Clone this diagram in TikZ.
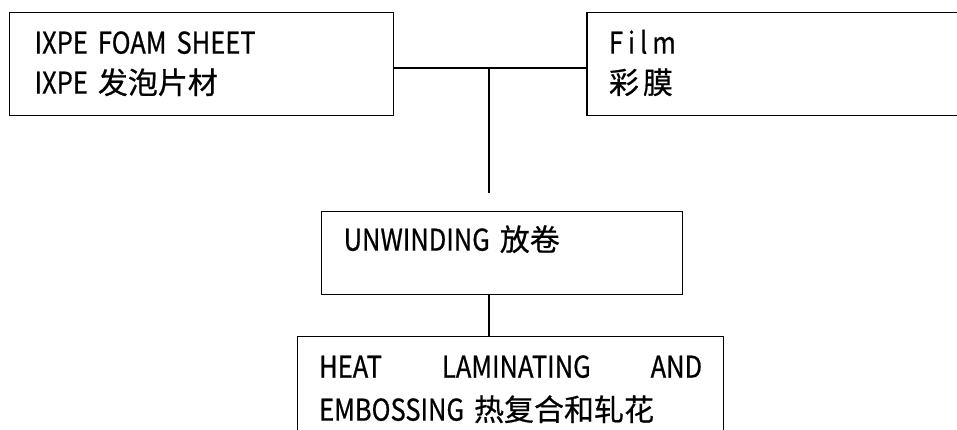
\documentclass[tikz,border=0pt]{standalone}
\usepackage{fontspec}
\newfontfamily\cjk[FakeBold=0.6]{Noto Sans CJK SC}
\newfontfamily\lat[FakeStretch=0.85, FakeBold=0.6, WordSpace=2.2]{Noto Sans CJK SC}
\usetikzlibrary{positioning}
\tikzset{
    box/.style={draw, rectangle, line width=1.3pt, anchor=north west, align=left, inner ysep=0pt, font=\cjk\fontsize{30}{40}\selectfont},
    link/.style={line width=1.3pt}
}

\begin{document}
\begin{tikzpicture}[x=1pt, y=-1pt]
    \useasboundingbox (0,0) rectangle (957,429);
    \clip (0,0) rectangle (957,429);

    % ============================================================
    % Row 1: materials
    % ============================================================
    \node[box, text width=334pt, inner xsep=25pt, text height=41pt, text depth=62pt] (sheet) at (9,12) {{\lat IXPE FOAM SHEET}\\{\lat IXPE }发泡片材};
    \node[box, right=192pt of sheet, text width=400pt, inner xsep=22pt, text height=41pt, text depth=62pt] (film) {{\lat F\kern5pt i\kern5pt l\kern5pt m}\\彩\kern4pt 膜};

    % ============================================================
    % Row 2 and 3: process steps
    % ============================================================
    \node[box, text width=317pt, inner xsep=22pt, text height=39pt, text depth=44pt] (unwind) at (321,211) {{\lat UNWINDING }放卷};
    \node[box, text width=383pt, inner xsep=21.5pt, text height=41pt, text depth=80pt, font=\cjk\fontsize{30}{43}\selectfont] (laminate) at (297,336) {{\lat HEAT\hfill LAMINATING\hfill AND}\\{\lat EMBOSSING }热复合和轧花};

    % Connections
    \coordinate (tee) at (489,68);
    \coordinate (drop) at (489,193);
    \draw[link] (tee -| sheet.east) -- (tee -| film.west);
    \draw[link] (tee) -- (drop);
    \draw[link] (unwind.south -| tee) -- (laminate.north -| tee);

\end{tikzpicture}
\end{document}
